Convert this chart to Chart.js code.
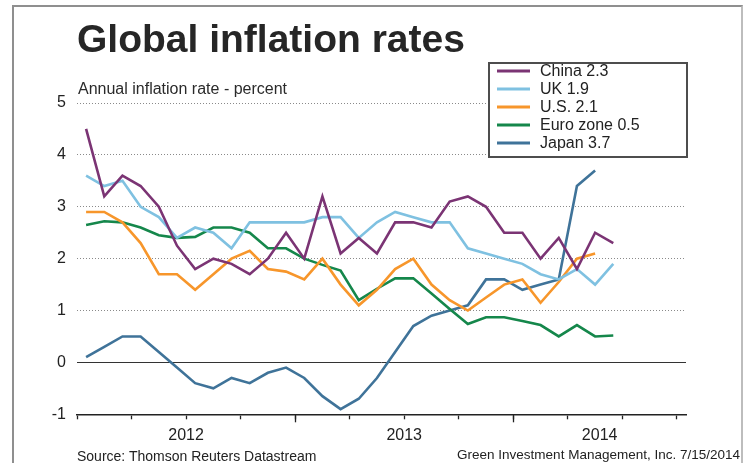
<!DOCTYPE html>
<html>
<head>
<meta charset="utf-8">
<script src="https://cdn.jsdelivr.net/npm/chart.js@4.4.1/dist/chart.umd.min.js"></script>
<style>
  html, body { margin: 0; padding: 0; background: #fff; }
  body { width: 752px; height: 463px; position: relative; overflow: hidden; font-family: "Liberation Sans", Arial, sans-serif; }
  #frame { position: absolute; left: 12px; top: 5px; width: 731px; height: 480px; border: 2px solid #8f8f8f; border-right-color: #bdbdbd; box-sizing: border-box; }
  canvas { position: absolute; left: 0; top: 0; }
  .txt { position: absolute; white-space: nowrap; color: #222; }
  #title { left: 77px; top: 19px; font-size: 39px; line-height: 39px; font-weight: bold; color: #262626; }
  #subtitle { left: 78px; top: 81px; font-size: 16px; line-height: 16px; color: #2a2a2a; }
  #source { left: 77px; top: 449px; font-size: 14px; line-height: 14px; }
  #credit { right: 12px; top: 447.5px; font-size: 13.5px; line-height: 14px; }
</style>
</head>
<body>
<div id="frame"></div>
<canvas id="c" width="752" height="463"></canvas>
<div class="txt" id="title">Global inflation rates</div>
<div class="txt" id="subtitle">Annual inflation rate - percent</div>
<div class="txt" id="source">Source: Thomson Reuters Datastream</div>
<div class="txt" id="credit">Green Investment Management, Inc. 7/15/2014</div>
<script>
// ---- data ----
const months = [
  'Jan 2012','Feb 2012','Mar 2012','Apr 2012','May 2012','Jun 2012','Jul 2012','Aug 2012','Sep 2012','Oct 2012','Nov 2012','Dec 2012',
  'Jan 2013','Feb 2013','Mar 2013','Apr 2013','May 2013','Jun 2013','Jul 2013','Aug 2013','Sep 2013','Oct 2013','Nov 2013','Dec 2013',
  'Jan 2014','Feb 2014','Mar 2014','Apr 2014','May 2014','Jun 2014'
];
const years = ['2012', '2013', '2014'];
const yTickValues = [-1, 0, 1, 2, 3, 4, 5];
const seriesNames = ['China', 'UK', 'U.S.', 'Euro zone', 'Japan'];

const china = [4.5, 3.2, 3.6, 3.4, 3.0, 2.25, 1.8, 2.0, 1.9, 1.7, 2.0, 2.5,
               2.0, 3.2, 2.1, 2.4, 2.1, 2.7, 2.7, 2.6, 3.1, 3.2, 3.0, 2.5,
               2.5, 2.0, 2.4, 1.8, 2.5, 2.3];
const uk    = [3.6, 3.4, 3.5, 3.0, 2.8, 2.4, 2.6, 2.5, 2.2, 2.7, 2.7, 2.7,
               2.7, 2.8, 2.8, 2.4, 2.7, 2.9, 2.8, 2.7, 2.7, 2.2, 2.1, 2.0,
               1.9, 1.7, 1.6, 1.8, 1.5, 1.9];
const us    = [2.9, 2.9, 2.7, 2.3, 1.7, 1.7, 1.4, 1.7, 2.0, 2.15, 1.8, 1.75,
               1.6, 2.0, 1.5, 1.1, 1.4, 1.8, 2.0, 1.5, 1.2, 1.0, 1.25, 1.5,
               1.6, 1.15, 1.55, 2.0, 2.1];
const euro  = [2.65, 2.72, 2.7, 2.6, 2.45, 2.4, 2.42, 2.6, 2.6, 2.5, 2.2, 2.2,
               2.0, 1.88, 1.77, 1.2, 1.42, 1.62, 1.62, 1.33, 1.03, 0.74, 0.87, 0.87,
               0.8, 0.72, 0.5, 0.72, 0.5, 0.52];
const japan = [0.1, 0.3, 0.5, 0.5, 0.2, -0.1, -0.4, -0.5, -0.3, -0.4, -0.2, -0.1,
               -0.3, -0.65, -0.9, -0.7, -0.3, 0.2, 0.7, 0.9, 1.0, 1.1, 1.6, 1.6,
               1.4, 1.5, 1.6, 3.4, 3.7];

// ---- styling / layout ----
const colors = ['#7b3474', '#7fc1e1', '#f7962b', '#15874b', '#3f7399'];
const allSeries = [china, uk, us, euro, japan];
const X_MIN = -0.5, X_MAX = 33;
const FONT = '"Liberation Sans", Arial, sans-serif';

// quarterly tick marks at month boundaries
const quarterTicks = [];
for (let i = 0; i <= 33; i += 3) quarterTicks.push(i - 0.5);
const majorTicks = [];
months.forEach((m, i) => { if (i > 0 && m.startsWith('Jan')) majorTicks.push(i - 0.5); });
// year labels centred between year boundaries
const yearStarts = years.map(y => months.findIndex(m => m.endsWith(y)) - 0.5);
const yearCenters = yearStarts.map((s, k) => {
  const e = k + 1 < yearStarts.length ? yearStarts[k + 1] : X_MAX;
  return (s + e) / 2;
});

const datasets = seriesNames.map((name, k) => {
  const vals = allSeries[k];
  return {
    label: name + ' ' + vals[vals.length - 1].toFixed(1),
    data: vals.map((v, i) => ({ x: i, y: v })),
    borderColor: colors[k],
    backgroundColor: colors[k],
    borderWidth: 2.6,
    pointRadius: 0,
    tension: 0,
    fill: false
  };
});

const extraDraw = {
  id: 'extraDraw',
  afterDraw(chart) {
    const ctx = chart.ctx;
    const xs = chart.scales.x;
    const bottom = chart.chartArea.bottom;
    ctx.save();
    // longer year-boundary ticks
    ctx.strokeStyle = '#222';
    ctx.lineWidth = 1.3;
    majorTicks.forEach(v => {
      const px = Math.round(xs.getPixelForValue(v)) + 0.5;
      ctx.beginPath();
      ctx.moveTo(px, bottom);
      ctx.lineTo(px, bottom + 8);
      ctx.stroke();
    });
    // legend box
    const bx = 489, by = 63, bw = 198, bh = 94;
    ctx.fillStyle = '#fff';
    ctx.fillRect(bx, by, bw, bh);
    ctx.strokeStyle = '#4d4d4d';
    ctx.lineWidth = 2;
    ctx.strokeRect(bx, by, bw, bh);
    ctx.font = '16px ' + FONT;
    ctx.textBaseline = 'middle';
    ctx.textAlign = 'left';
    chart.data.datasets.forEach((ds, k) => {
      const y = by + 8 + k * 18;
      ctx.strokeStyle = ds.borderColor;
      ctx.lineWidth = 3;
      ctx.beginPath();
      ctx.moveTo(497, y);
      ctx.lineTo(530, y);
      ctx.stroke();
      ctx.fillStyle = '#222';
      ctx.fillText(ds.label, 540, y + 1);
    });
    ctx.restore();
  }
};

new Chart(document.getElementById('c'), {
  type: 'line',
  data: { datasets },
  options: {
    responsive: false,
    animation: false,
    devicePixelRatio: 1,
    layout: { padding: { left: 0, right: 66, top: 103, bottom: 10.7 } },
    plugins: { legend: { display: false }, tooltip: { enabled: false }, title: { display: false } },
    scales: {
      x: {
        type: 'linear', position: 'bottom', min: X_MIN, max: X_MAX,
        afterBuildTicks: s => { s.ticks = quarterTicks.map(v => ({ value: v })); },
        afterFit: s => { s.height = 8; },
        ticks: { display: false },
        grid: { drawOnChartArea: false, drawTicks: true, tickLength: 5, tickColor: '#222', tickWidth: 1.3 },
        border: { display: true, color: '#222', width: 1.6 }
      },
      x2: {
        type: 'linear', position: 'bottom', min: X_MIN, max: X_MAX,
        afterBuildTicks: s => { s.ticks = yearCenters.map(v => ({ value: v })); },
        afterFit: s => { s.height = 30; },
        ticks: {
          padding: 4,
          maxRotation: 0, autoSkip: false,
          color: '#222',
          font: { family: FONT, size: 16 },
          callback: (v) => { const k = yearCenters.indexOf(v); return k >= 0 ? years[k] : ''; }
        },
        grid: { display: false, drawTicks: false },
        border: { display: false }
      },
      y: {
        min: -1, max: 5,
        afterBuildTicks: s => { s.ticks = yTickValues.map(v => ({ value: v })); },
        afterFit: s => { s.width = 77; },
        ticks: { padding: 11, color: '#222', font: { family: FONT, size: 16 } },
        grid: {
          drawTicks: false,
          lineWidth: 1,
          color: ctx => ctx.tick.value === 0 ? '#333' : (ctx.tick.value === -1 ? 'rgba(0,0,0,0)' : '#8a8a8a')
        },
        border: {
          display: false,
          dash: ctx => (ctx.tick && ctx.tick.value === 0) ? [] : [1, 2]
        }
      }
    }
  },
  plugins: [extraDraw]
});
</script>
</body>
</html>
